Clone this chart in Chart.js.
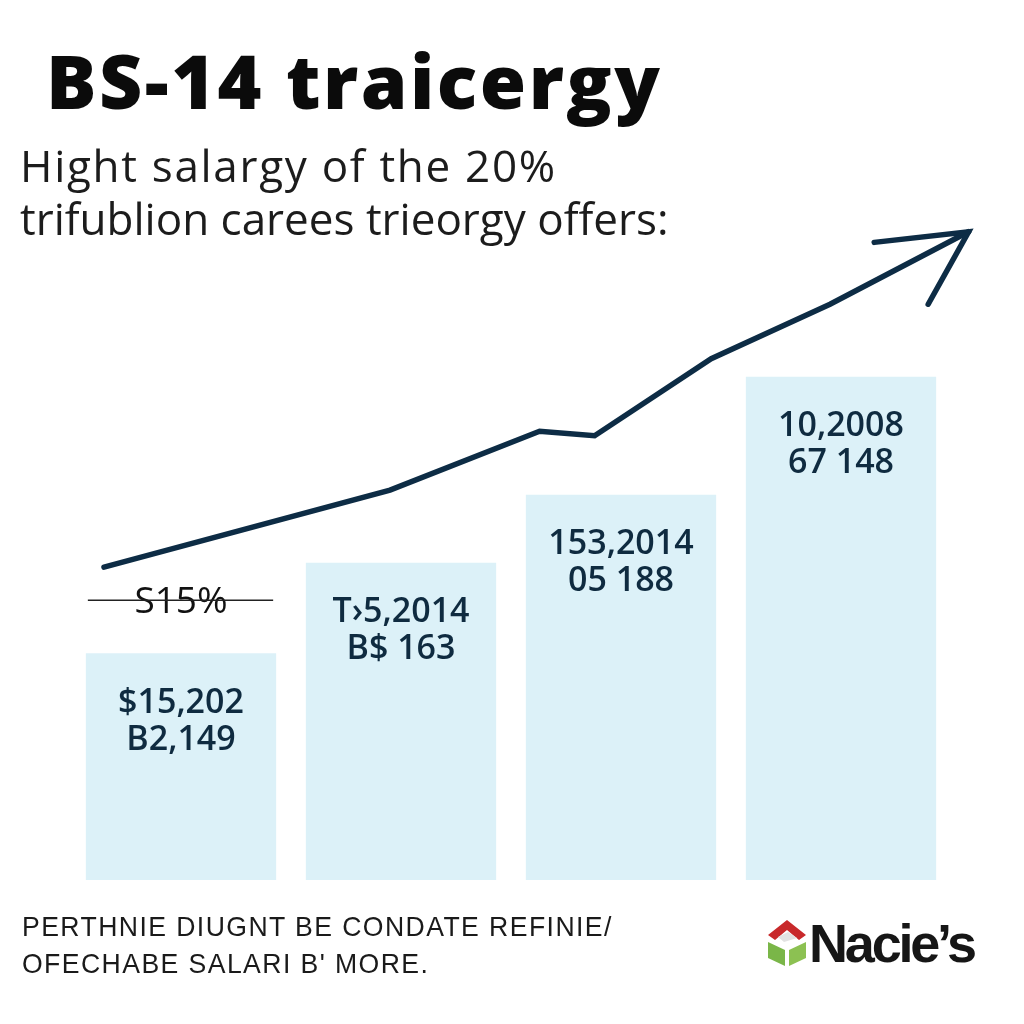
<!DOCTYPE html>
<html>
<head>
<meta charset="utf-8">
<script src="https://cdn.jsdelivr.net/npm/chart.js@4.4.1/dist/chart.umd.min.js"></script>
<style>
    html, body { margin: 0; padding: 0; background: #fff; }
    .page { position: relative; width: 1024px; height: 1024px; overflow: hidden; background: #fff; }
    #chart { position: absolute; left: 0; top: 0; }
    .title {
        position: absolute; left: 46px; top: 29px; margin: 0;
        font-family: 'Open Sans', sans-serif; font-weight: 800; font-size: 75px;
        color: #0b0b0b; letter-spacing: 2.5px; white-space: nowrap;
    }
    .subtitle {
        position: absolute; left: 20px; top: 139px; margin: 0;
        font-family: 'Open Sans', sans-serif; font-weight: 400; font-size: 44px; line-height: 53px;
        color: #1c1c1c; white-space: nowrap;
    }
    .footer {
        position: absolute; left: 22px; top: 908px; margin: 0;
        font-family: 'Liberation Sans', sans-serif; font-size: 28px; line-height: 37px;
        color: #1a1a1a; letter-spacing: 1.5px; white-space: nowrap;
        transform: scaleX(0.95); transform-origin: left top;
    }
    .logo { position: absolute; left: 766px; top: 912px; display: flex; align-items: center; }
    .logo span {
        font-family: 'Liberation Sans', sans-serif; font-weight: 700; font-size: 54px;
        letter-spacing: -3.2px; color: #161616; margin-left: 1px;
    }
</style>
</head>
<body>
<div class="page">
    <canvas id="chart" width="1024" height="1024"></canvas>

    <!-- Heading -->
    <h1 class="title">BS-14 traicergy</h1>
    <p class="subtitle"><span style="letter-spacing:1.7px">Hight salargy of the 20%</span><br>trifublion carees trieorgy offers:</p>

    <!-- Footnote + logo -->
    <p class="footer">PERTHNIE DIUGNT BE CONDATE REFINIE/<br>OFECHABE SALARI B' MORE.</p>
    <div class="logo">
        <svg width="42" height="50" viewBox="0 0 42 50">
            <polygon points="21,2 40,17 33,22 21,12 9,22 2,17" fill="#c8292b"/>
            <polygon points="12,19 22,14 31,20 18,24" fill="#e2e2e2"/>
            <polygon points="2,24 19,32 19,48 2,40" fill="#7ab648"/>
            <polygon points="23,32 40,24 40,40 23,48" fill="#8cc152"/>
        </svg>
        <span>Nacie’s</span>
    </div>
</div>

<script>
    // ---- data ----
    const categories = ['Stage 1', 'Stage 2', 'Stage 3', 'Stage 4'];
    const barValues = [50, 70, 85, 111];
    const barLabelTop = ['$15,202', 'T›5,2014', '153,2014', '10,2008'];
    const barLabelBottom = ['B2,149', 'B$ 163', '05 188', '67 148'];
    const markerLabel = 'S15%';

    // trajectory line (x in category units, y in bar units)
    const trendX = [-0.35, 0.95, 1.63, 1.88, 2.41, 2.95, 3.58];
    const trendY = [69, 86, 99, 98, 115, 127, 143];

    const NAVY = '#0d2c45';

    // bar text + the struck-through marker above bar 1
    const barText = {
        id: 'barText',
        afterDatasetsDraw(chart) {
            const ctx = chart.ctx;
            const bars = chart.getDatasetMeta(0).data;
            ctx.save();
            ctx.textAlign = 'center';
            ctx.textBaseline = 'middle';
            ctx.fillStyle = '#0f2b40';
            ctx.font = '600 34px "Open Sans", sans-serif';
            bars.forEach((b, i) => {
                ctx.fillText(barLabelTop[i], b.x, b.y + 50);
                ctx.fillText(barLabelBottom[i], b.x, b.y + 87);
            });

            // marker over first bar
            const b0 = bars[0];
            const half = b0.width / 2;
            const my = b0.y - 53;
            ctx.fillStyle = '#111';
            ctx.font = '400 37px "Open Sans", sans-serif';
            ctx.fillText(markerLabel, b0.x, my + 2);
            ctx.strokeStyle = '#222';
            ctx.lineWidth = 1.5;
            ctx.beginPath();
            ctx.moveTo(b0.x - half + 2, my);
            ctx.lineTo(b0.x + half - 3, my);
            ctx.stroke();
            ctx.restore();
        }
    };

    // open arrow head at the end of the trajectory
    const arrowHead = {
        id: 'arrowHead',
        afterDatasetsDraw(chart) {
            const pts = chart.getDatasetMeta(1).data;
            const tip = pts[pts.length - 1];
            const prev = pts[pts.length - 2];
            const ang = Math.atan2(tip.y - prev.y, tip.x - prev.x);
            const ctx = chart.ctx;
            ctx.save();
            ctx.strokeStyle = NAVY;
            ctx.lineWidth = 5.5;
            ctx.lineCap = 'round';
            ctx.lineJoin = 'miter';
            ctx.beginPath();
            ctx.moveTo(tip.x - 95 * Math.cos(ang + 0.37), tip.y - 95 * Math.sin(ang + 0.37));
            ctx.lineTo(tip.x, tip.y);
            ctx.lineTo(tip.x - 83 * Math.cos(ang - 0.58), tip.y - 83 * Math.sin(ang - 0.58));
            ctx.stroke();
            ctx.restore();
        }
    };

    new Chart(document.getElementById('chart'), {
        type: 'bar',
        data: {
            labels: categories,
            datasets: [
                {
                    label: 'Salary',
                    data: barValues,
                    backgroundColor: '#dcf1f8',
                    borderWidth: 0,
                    grouped: false,
                    categoryPercentage: 1,
                    barPercentage: 0.865,
                    order: 1
                },
                {
                    type: 'line',
                    label: 'Trajectory',
                    data: trendX.map((x, i) => ({ x, y: trendY[i] })),
                    xAxisID: 'x2',
                    borderColor: NAVY,
                    borderWidth: 5.5,
                    borderCapStyle: 'round',
                    borderJoinStyle: 'miter',
                    pointRadius: 0,
                    tension: 0,
                    fill: false,
                    clip: false,
                    order: 0
                }
            ]
        },
        options: {
            responsive: false,
            animation: false,
            layout: { padding: { left: 71, right: 73, top: 200, bottom: 144 } },
            plugins: {
                legend: { display: false },
                tooltip: { enabled: false }
            },
            scales: {
                x: { display: false },
                x2: { type: 'linear', display: false, offset: false, min: -0.5, max: 3.5 },
                y: { display: false, min: 0, max: 150 }
            }
        },
        plugins: [barText, arrowHead]
    });
</script>
</body>
</html>
